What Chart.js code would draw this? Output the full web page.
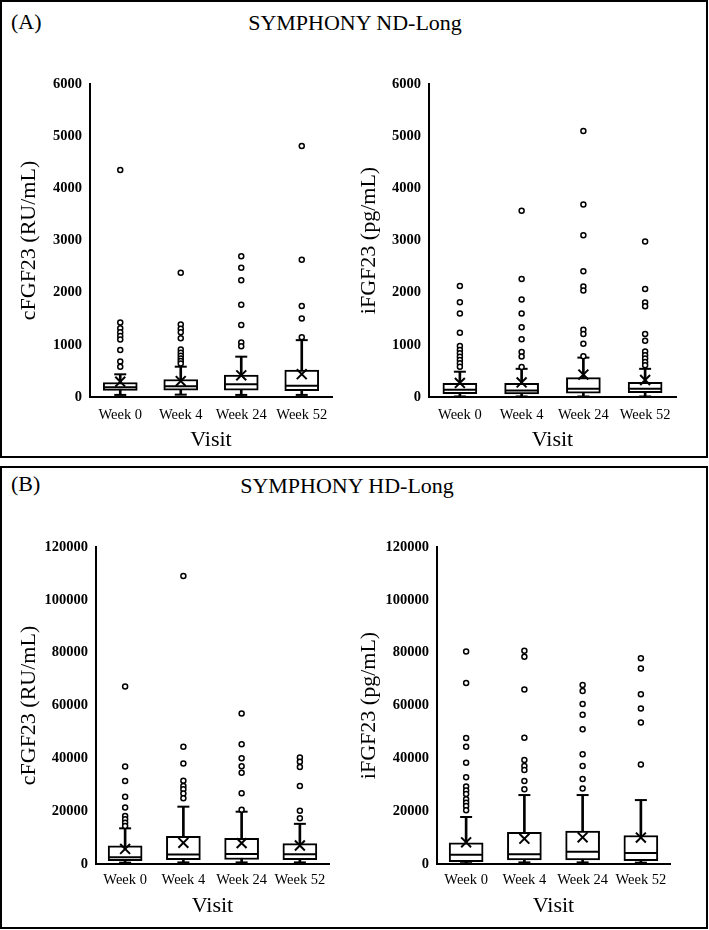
<!DOCTYPE html>
<html>
<head>
<meta charset="utf-8">
<title>FGF23 by visit</title>
<script src="https://cdn.jsdelivr.net/npm/chart.js@4.4.1/dist/chart.umd.min.js"></script>
<style>
    body { margin: 0; background: #fff; width: 709px; height: 930px; position: relative; overflow: hidden; font-family: "Liberation Serif", "Times New Roman", serif; }
    .panel { position: absolute; left: 0; width: 708px; border: 2px solid #000; box-sizing: border-box; }
    .tag, .heading { position: absolute; font-size: 22px; line-height: 24px; color: #000; white-space: nowrap; }
    .heading { width: 400px; text-align: center; }
    canvas { position: absolute; }
</style>
</head>
<body>

<div class="panel" style="top:0; height:458px;"></div>
<div class="tag" style="left:11px; top:10px;">(A)</div>
<div class="heading" style="left:155px; top:11px;">SYMPHONY ND-Long</div>

<div class="panel" style="top:466px; height:463px;"></div>
<div class="tag" style="left:11px; top:472px;">(B)</div>
<div class="heading" style="left:147px; top:474px;">SYMPHONY HD-Long</div>

<canvas id="ndC"></canvas>
<canvas id="ndI"></canvas>
<canvas id="hdC"></canvas>
<canvas id="hdI"></canvas>

<script>
// DATA

const visits = ["Week 0", "Week 4", "Week 24", "Week 52"];

// (A) ND-Long, cFGF23 (RU/mL)
const ndCMin = [40, 45, 40, 40];
const ndCQ1 = [125, 130, 130, 120];
const ndCMedian = [186, 205, 243, 215];
const ndCQ3 = [278, 335, 421, 517];
const ndCMax = [435, 581, 773, 1090];
const ndCMean = [293, 306, 415, 437];
const ndCOutliers = [
    [4350, 1430, 1320, 1240, 1170, 1100, 900, 680, 580],
    [2380, 1390, 1310, 1240, 1125, 910, 850, 790, 740, 690, 640],
    [2700, 2480, 2240, 1770, 1380, 1045, 975],
    [4810, 2630, 1745, 1505, 1145]
];

// (A) ND-Long, iFGF23 (pg/mL)
const ndIMin = [10, 10, 10, 10];
const ndIQ1 = [65, 60, 75, 85];
const ndIMedian = [140, 125, 160, 160];
const ndIQ3 = [262, 260, 370, 281];
const ndIMax = [485, 540, 755, 540];
const ndIMean = [270, 280, 430, 326];
const ndIOutliers = [
    [2126, 1814, 1603, 1232, 977, 900, 837, 772, 709, 645, 581],
    [3570, 2260, 1870, 1600, 1335, 1105, 865, 775, 575],
    [5100, 3690, 3100, 2410, 2120, 2040, 1290, 1210, 1020, 780],
    [2980, 2070, 1810, 1740, 1210, 1080, 870, 800, 740, 670, 610]
];

// (B) HD-Long, cFGF23 (RU/mL)
const hdCMin = [500, 600, 600, 600];
const hdCQ1 = [1300, 1600, 1700, 1600];
const hdCMedian = [2600, 3600, 3800, 3700];
const hdCQ3 = [6900, 10500, 9700, 7700];
const hdCMax = [13500, 21700, 19800, 15200];
const hdCMean = [5700, 8000, 7900, 7000];
const hdCOutliers = [
    [67200, 36900, 31400, 25500, 21400, 18200, 16900, 15600, 14400],
    [109000, 44400, 38000, 31500, 29500, 28300, 26700, 24900],
    [57000, 45300, 40000, 37000, 34500, 26800, 20500],
    [40300, 38700, 36700, 29500, 20200, 17300]
];

// (B) HD-Long, iFGF23 (pg/mL)
const hdIMin = [300, 600, 600, 500];
const hdIQ1 = [900, 1500, 1500, 1300];
const hdIMedian = [3500, 3700, 4600, 4200];
const hdIQ3 = [8000, 12000, 12500, 10800];
const hdIMax = [17800, 26100, 26100, 24200];
const hdIMean = [8200, 9600, 10100, 10000];
const hdIOutliers = [
    [80400, 68500, 47700, 44400, 38300, 32800, 29300, 27800, 26500, 24500, 23200, 22000, 20300],
    [80700, 78500, 66100, 47800, 39400, 37100, 35600, 31400, 28300],
    [67800, 65500, 60600, 56500, 51000, 41500, 37100, 32200, 28600],
    [77900, 74000, 64300, 58900, 53600, 37700]
];

const FONT = "'Liberation Serif', 'Times New Roman', serif";
const BOX_WIDTH = 34;

// BUILD DATASETS

function boxDatasets(mins, q1s, medians, q3s, maxs, means, outliers) {
    const points = arr => visits.map((v, i) => ({ x: v, y: arr[i] }));
    const outlierPoints = [];
    outliers.forEach((list, i) => {
        list.forEach(y => outlierPoints.push({ x: visits[i], y: y }));
    });

    return [
        {
            type: "bar",
            data: visits.map((v, i) => [mins[i], maxs[i]]),
            grouped: false,
            barThickness: 2,
            backgroundColor: "#000",
            borderWidth: 0,
            order: 5
        },
        {
            type: "bar",
            data: visits.map((v, i) => [q1s[i], q3s[i]]),
            grouped: false,
            barThickness: BOX_WIDTH,
            backgroundColor: "#fff",
            borderColor: "#000",
            borderWidth: 2,
            borderSkipped: false,
            order: 4
        },
        {
            type: "line",
            data: points(medians),
            showLine: false,
            pointStyle: "line",
            pointRadius: BOX_WIDTH / 2 - 1,
            pointBorderColor: "#000",
            pointBorderWidth: 2,
            order: 3
        },
        {
            type: "line",
            data: points(mins).concat(points(maxs)),
            showLine: false,
            pointStyle: "line",
            pointRadius: 6,
            pointBorderColor: "#000",
            pointBorderWidth: 2,
            order: 2
        },
        {
            type: "line",
            data: outlierPoints,
            showLine: false,
            pointStyle: "circle",
            pointRadius: 2.5,
            pointBorderColor: "#000",
            pointBackgroundColor: "#fff",
            pointBorderWidth: 1.5,
            order: 1
        },
        {
            type: "line",
            data: points(means),
            showLine: false,
            pointStyle: "crossRot",
            pointRadius: 7,
            pointBorderColor: "#000",
            pointBorderWidth: 2,
            order: 0
        }
    ];
}

// DRAW ONE CHART

function drawBoxChart(id, geo, yTitle, yMax, yStep, datasets) {
    const canvas = document.getElementById(id);
    canvas.width = geo.w;
    canvas.height = geo.h;
    canvas.style.left = geo.left + "px";
    canvas.style.top = geo.top + "px";

    const yWidth = geo.plotL - geo.left;
    const xHeight = geo.top + geo.h - geo.plotB;
    const yTitlePad = geo.yTitleX - geo.left - 13.2;
    const xTitlePad = geo.h - (geo.xTitleY - geo.top) - 13.2;

    new Chart(canvas, {
        type: "bar",
        data: { labels: visits, datasets: datasets },
        options: {
            responsive: false,
            animation: false,
            events: [],
            layout: {
                padding: { left: 0, top: geo.plotT - geo.top, right: geo.left + geo.w - geo.plotR, bottom: 0 }
            },
            plugins: { legend: { display: false }, tooltip: { enabled: false } },
            scales: {
                x: {
                    type: "category",
                    offset: true,
                    grid: { display: false, drawTicks: false },
                    border: { display: true, color: "#000", width: 2 },
                    ticks: {
                        color: "#000",
                        font: { family: FONT, size: 14.5 },
                        padding: geo.xTickPad,
                        maxRotation: 0,
                        autoSkip: false
                    },
                    title: {
                        display: true,
                        text: "Visit",
                        color: "#000",
                        font: { family: FONT, size: 22 },
                        padding: { top: 0, bottom: xTitlePad }
                    },
                    afterFit: scale => { scale.height = xHeight; }
                },
                y: {
                    min: 0,
                    max: yMax,
                    grid: { display: false, drawTicks: false },
                    border: { display: true, color: "#000", width: 2 },
                    ticks: {
                        stepSize: yStep,
                        color: "#000",
                        font: { family: FONT, size: 14.5, weight: "bold" },
                        padding: 8,
                        callback: value => String(value)
                    },
                    title: {
                        display: true,
                        text: yTitle,
                        color: "#000",
                        font: { family: FONT, size: 22 },
                        padding: { top: yTitlePad, bottom: 0 }
                    },
                    afterFit: scale => { scale.width = yWidth; }
                }
            }
        }
    });
}

// RUN

drawBoxChart("ndC",
    { left: 6, top: 56, w: 344, h: 405, plotL: 90, plotT: 84, plotR: 337, plotB: 397, yTitleX: 29, xTitleY: 440, xTickPad: 9 },
    "cFGF23 (RU/mL)", 6000, 1000,
    boxDatasets(ndCMin, ndCQ1, ndCMedian, ndCQ3, ndCMax, ndCMean, ndCOutliers));

drawBoxChart("ndI",
    { left: 352, top: 56, w: 350, h: 405, plotL: 429, plotT: 84, plotR: 676, plotB: 397, yTitleX: 369, xTitleY: 440, xTickPad: 9 },
    "iFGF23 (pg/mL)", 6000, 1000,
    boxDatasets(ndIMin, ndIQ1, ndIMedian, ndIQ3, ndIMax, ndIMean, ndIOutliers));

drawBoxChart("hdC",
    { left: 6, top: 519, w: 344, h: 409, plotL: 96, plotT: 547, plotR: 329, plotB: 864, yTitleX: 29, xTitleY: 906, xTickPad: 7 },
    "cFGF23 (RU/mL)", 120000, 20000,
    boxDatasets(hdCMin, hdCQ1, hdCMedian, hdCQ3, hdCMax, hdCMean, hdCOutliers));

drawBoxChart("hdI",
    { left: 352, top: 519, w: 350, h: 409, plotL: 437, plotT: 547, plotR: 670, plotB: 864, yTitleX: 369, xTitleY: 906, xTickPad: 7 },
    "iFGF23 (pg/mL)", 120000, 20000,
    boxDatasets(hdIMin, hdIQ1, hdIMedian, hdIQ3, hdIMax, hdIMean, hdIOutliers));
</script>
</body>
</html>
